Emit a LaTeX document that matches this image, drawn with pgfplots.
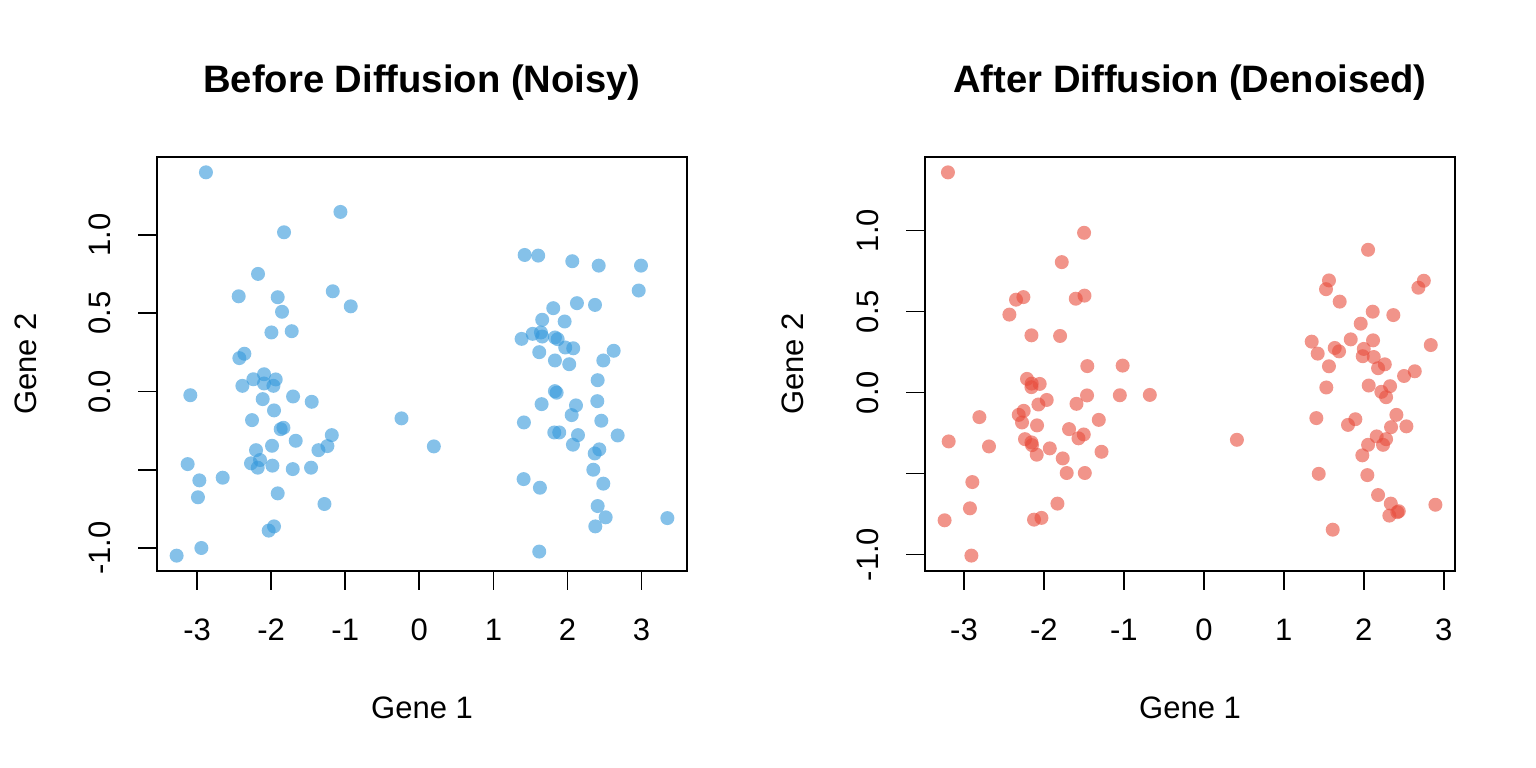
\documentclass[border=0pt]{standalone}
\usepackage{fontspec}
\setmainfont{Liberation Sans}
\usepackage{pgfplots}
\pgfplotsset{compat=1.18}
\definecolor{cblue}{HTML}{3498DB}
\definecolor{cred}{HTML}{E74C3C}

\pgfplotstableread{
x y
-2.881 1.400
-1.065 1.147
-1.827 1.017
-2.178 0.751
-2.439 0.608
-1.912 0.602
-1.169 0.640
-0.926 0.544
-1.854 0.509
-1.997 0.377
-1.723 0.385
-2.362 0.241
-2.430 0.213
1.422 0.872
1.605 0.868
2.065 0.832
2.422 0.804
2.993 0.804
2.962 0.645
1.808 0.532
2.128 0.564
2.372 0.553
1.659 0.458
1.962 0.447
1.381 0.336
1.530 0.368
1.642 0.377
1.659 0.351
1.831 0.345
1.868 0.334
1.970 0.281
2.078 0.276
1.619 0.251
2.624 0.260
1.831 0.198
2.024 0.174
2.484 0.198
2.408 0.072
1.831 0.002
1.854 -0.008
1.651 -0.081
2.115 -0.089
2.403 -0.062
2.057 -0.151
1.412 -0.198
2.457 -0.187
1.822 -0.262
1.889 -0.262
2.142 -0.279
2.678 -0.281
2.074 -0.340
2.430 -0.370
2.368 -0.396
0.196 -0.351
2.349 -0.500
1.408 -0.560
1.628 -0.615
2.484 -0.589
2.408 -0.732
2.516 -0.804
2.376 -0.862
3.349 -0.809
1.619 -1.023
-2.241 0.078
-2.097 0.110
-1.939 0.077
-2.097 0.051
-1.970 0.036
-2.389 0.036
-3.092 -0.024
-2.115 -0.049
-1.705 -0.032
-1.453 -0.066
-1.962 -0.121
-2.259 -0.183
-0.241 -0.172
-1.872 -0.241
-1.835 -0.232
-1.669 -0.315
-1.182 -0.279
-1.989 -0.347
-1.362 -0.375
-1.241 -0.349
-2.205 -0.375
-3.128 -0.464
-2.273 -0.459
-2.151 -0.438
-2.182 -0.487
-1.984 -0.474
-1.709 -0.496
-1.462 -0.487
-2.970 -0.568
-2.655 -0.551
-2.989 -0.676
-1.912 -0.651
-1.281 -0.719
-1.962 -0.862
-2.034 -0.889
-2.943 -1.000
-3.277 -1.049
}\noisy

\pgfplotstableread{
x y
-3.200 1.359
-1.498 0.986
-1.777 0.805
-2.349 0.573
-2.257 0.589
-2.432 0.481
-1.602 0.579
-1.493 0.598
-2.156 0.353
-1.798 0.349
-1.458 0.163
-1.016 0.166
2.053 0.881
1.564 0.692
1.527 0.638
2.750 0.690
2.682 0.647
1.698 0.561
2.111 0.499
2.369 0.478
1.961 0.425
1.348 0.314
1.423 0.240
1.836 0.328
2.115 0.322
1.636 0.275
1.690 0.254
1.999 0.269
1.986 0.224
2.124 0.219
2.262 0.174
2.837 0.293
1.564 0.162
2.178 0.150
2.503 0.102
2.637 0.131
1.531 0.031
2.061 0.043
2.328 0.039
2.219 0.004
2.278 -0.029
1.406 -0.158
1.802 -0.200
1.894 -0.165
2.407 -0.138
2.340 -0.214
2.532 -0.209
2.161 -0.271
2.278 -0.288
2.053 -0.323
2.240 -0.323
1.981 -0.388
0.413 -0.292
1.436 -0.502
2.044 -0.510
2.178 -0.633
2.337 -0.686
2.437 -0.733
2.419 -0.739
2.319 -0.760
2.895 -0.693
1.611 -0.847
-2.212 0.084
-2.153 0.055
-2.053 0.053
-2.156 0.033
-1.461 -0.018
-1.051 -0.017
-0.676 -0.015
-1.965 -0.046
-2.069 -0.074
-1.593 -0.070
-2.253 -0.113
-2.315 -0.138
-2.807 -0.152
-2.274 -0.185
-2.086 -0.203
-1.314 -0.169
-1.686 -0.226
-1.502 -0.259
-1.568 -0.283
-3.191 -0.302
-2.687 -0.333
-2.237 -0.288
-2.156 -0.308
-2.149 -0.325
-2.090 -0.384
-1.927 -0.345
-1.765 -0.407
-1.280 -0.366
-1.715 -0.497
-1.489 -0.497
-2.895 -0.553
-1.831 -0.686
-2.925 -0.715
-3.242 -0.789
-2.124 -0.785
-2.031 -0.774
-2.907 -1.007
}\denoised

\pgfplotsset{
  rpanel/.style={
    scale only axis, width=530pt, height=414pt, anchor=south west,
    axis line style={black, line width=1.8pt},
    every tick/.style={black, line width=1.8pt},
    tick align=outside, major tick length=19pt,
    xtick pos=bottom, ytick pos=left,
    xtick={-3,-2,-1,0,1,2,3}, ytick={-1,-0.5,0,0.5,1},
    xticklabels={,,,,,,}, yticklabels={,,,,},
    xticklabel style={opacity=0}, yticklabel style={opacity=0},
    clip=false,
  },
  pts/.style={only marks, color=#1, mark=*, mark size=7pt,
    mark options={draw opacity=0, fill=#1, fill opacity=0.6}},
}

\begin{document}
\begin{tikzpicture}[font=\fontsize{31}{37}\selectfont]
\path[use as bounding box] (0pt,0pt) rectangle (1536pt,768pt);

\begin{axis}[rpanel, at={(157pt,197pt)},
  xmin=-3.542, xmax=3.614, ymin=-1.147, ymax=1.498]
  \addplot[pts=cblue] table[x=x,y=y] {\noisy};
  \pgfplotsinvokeforeach{-3,-2,-1,0,1,2,3}{
    \node[anchor=base] at ([yshift=-70pt]axis cs:#1,-1.147) {#1};
  }
  \pgfplotsinvokeforeach{1.0,0.5,0.0,-1.0}{
    \node[anchor=base, rotate=90] at ([xshift=-47pt]axis cs:-3.542,#1) {#1};
  }
\end{axis}

\begin{axis}[rpanel, at={(925pt,197pt)},
  xmin=-3.487, xmax=3.140, ymin=-1.102, ymax=1.454]
  \addplot[pts=cred] table[x=x,y=y] {\denoised};
  \pgfplotsinvokeforeach{-3,-2,-1,0,1,2,3}{
    \node[anchor=base] at ([yshift=-70pt]axis cs:#1,-1.102) {#1};
  }
  \pgfplotsinvokeforeach{1.0,0.5,0.0,-1.0}{
    \node[anchor=base, rotate=90] at ([xshift=-47pt]axis cs:-3.487,#1) {#1};
  }
\end{axis}

\node[anchor=base, font=\fontsize{38.2}{45}\selectfont\bfseries] at (422pt,675pt) {Before Diffusion (Noisy)};
\node[anchor=base, font=\fontsize{38.2}{45}\selectfont\bfseries] at (1190pt,675pt) {After Diffusion (Denoised)};
\node[anchor=base] at (422pt,49pt) {Gene 1};
\node[anchor=base] at (1190pt,49pt) {Gene 1};
\node[anchor=base, rotate=90] at (36.7pt,404pt) {Gene 2};
\node[anchor=base, rotate=90] at (803pt,404pt) {Gene 2};
\end{tikzpicture}
\end{document}
